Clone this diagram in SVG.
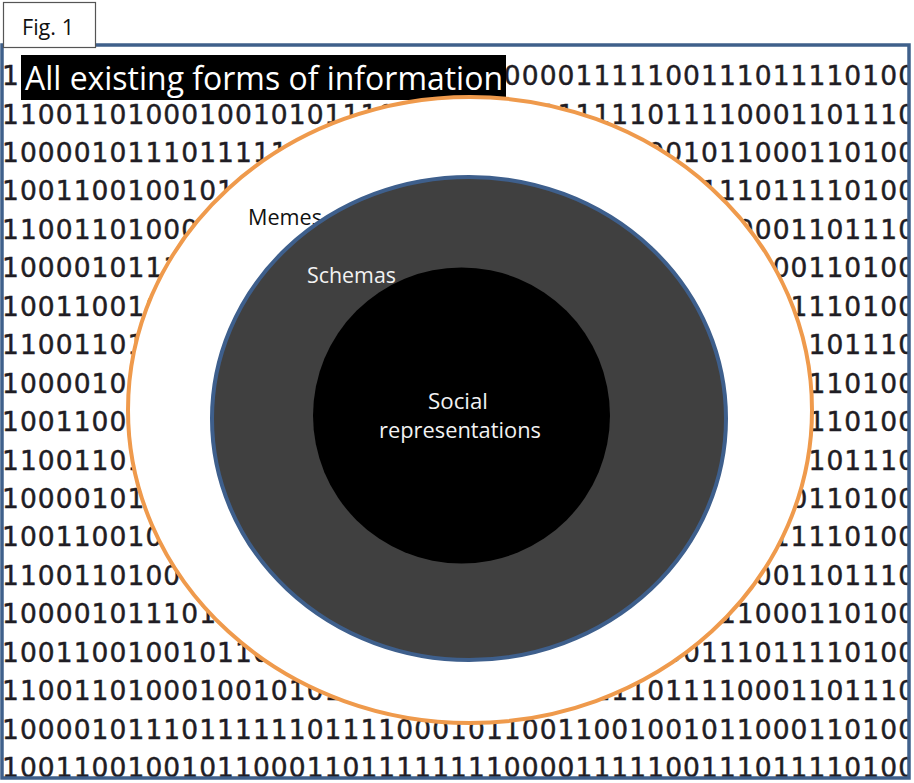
<svg xmlns="http://www.w3.org/2000/svg" width="914" height="783" viewBox="0 0 914 783">
<defs>
<style>
.bin{font-family:"DejaVu Sans",sans-serif;font-size:26.5px;fill:#1f1d24;stroke:#1f1d24;stroke-width:0.45}
.lbl{font-family:"Open Sans","Liberation Sans",Arial,sans-serif;font-size:21px}
</style>
<clipPath id="frameClip"><rect x="3" y="46" width="905" height="731"/></clipPath>
</defs>
<rect x="0" y="0" width="914" height="783" fill="#ffffff"/>
<g id="background-binary" clip-path="url(#frameClip)">
<text class="bin" x="2" y="85" textLength="913" lengthAdjust="spacing">100110010010110001101111111100001111100111011110100</text>
<text class="bin" x="2" y="123.5" textLength="913" lengthAdjust="spacing">110011010001001010111011001100111111011110001101110</text>
<text class="bin" x="2" y="162" textLength="913" lengthAdjust="spacing">100001011101111110111100010110011001001011000110100</text>
<text class="bin" x="2" y="200.4" textLength="913" lengthAdjust="spacing">100110010010110001101111111100001111100111011110100</text>
<text class="bin" x="2" y="238.8" textLength="913" lengthAdjust="spacing">110011010001001010111011001100111111011110001101110</text>
<text class="bin" x="2" y="277.3" textLength="913" lengthAdjust="spacing">100001011101111110111100010110011001001011000110100</text>
<text class="bin" x="2" y="315.7" textLength="913" lengthAdjust="spacing">100110010010110001101111111100001111100111011110100</text>
<text class="bin" x="2" y="354.2" textLength="913" lengthAdjust="spacing">110011010001001010111011001100111111011110001101110</text>
<text class="bin" x="2" y="392.6" textLength="913" lengthAdjust="spacing">100001011101111110111100010110011001001011000110100</text>
<text class="bin" x="2" y="431.1" textLength="913" lengthAdjust="spacing">100110010010110001101111111100001111100111011110100</text>
<text class="bin" x="2" y="469.5" textLength="913" lengthAdjust="spacing">110011010001001010111011001100111111011110001101110</text>
<text class="bin" x="2" y="508" textLength="913" lengthAdjust="spacing">100001011101111110111100010110011001001011000110100</text>
<text class="bin" x="2" y="546.4" textLength="913" lengthAdjust="spacing">100110010010110001101111111100001111100111011110100</text>
<text class="bin" x="2" y="584.9" textLength="913" lengthAdjust="spacing">110011010001001010111011001100111111011110001101110</text>
<text class="bin" x="2" y="623.3" textLength="913" lengthAdjust="spacing">100001011101111110111100010110011001001011000110100</text>
<text class="bin" x="2" y="661.8" textLength="913" lengthAdjust="spacing">100110010010110001101111111100001111100111011110100</text>
<text class="bin" x="2" y="700.2" textLength="913" lengthAdjust="spacing">110011010001001010111011001100111111011110001101110</text>
<text class="bin" x="2" y="738.7" textLength="913" lengthAdjust="spacing">100001011101111110111100010110011001001011000110100</text>
<text class="bin" x="2" y="777.1" textLength="913" lengthAdjust="spacing">100110010010110001101111111100001111100111011110100</text>
</g>
<g id="frame">
<rect x="2" y="45" width="907" height="733" fill="none" stroke="#3f608b" stroke-width="3.5"/>
</g>
<g id="fig-label">
<rect x="3.5" y="2.5" width="92" height="45" fill="#ffffff" stroke="#555555" stroke-width="1.2"/>
<text class="lbl" x="22" y="35" font-size="20" fill="#111111" textLength="52" lengthAdjust="spacingAndGlyphs">Fig. 1</text>
</g>
<g id="title">
<rect x="21" y="55" width="485" height="45" fill="#000000"/>
<text x="25" y="90" font-family="Open Sans, Liberation Sans, Arial, sans-serif" font-size="33" fill="#ffffff" textLength="478" lengthAdjust="spacingAndGlyphs">All existing forms of information</text>
</g>
<g id="memes">
<ellipse cx="470" cy="410" rx="342" ry="313" fill="#ffffff" stroke="#ef9a4c" stroke-width="4"/>
<text class="lbl" x="248" y="225" fill="#111111" textLength="74" lengthAdjust="spacingAndGlyphs">Memes</text>
</g>
<g id="schemas">
<ellipse cx="469" cy="418.5" rx="257" ry="241.5" fill="#404040" stroke="#3e5f8c" stroke-width="4"/>
<text class="lbl" x="307" y="283" fill="#f2f2f2" textLength="89" lengthAdjust="spacingAndGlyphs">Schemas</text>
</g>
<g id="social-representations">
<ellipse cx="461.5" cy="415.5" rx="148.5" ry="148" fill="#000000"/>
<text class="lbl" x="428" y="409" font-size="22" fill="#f2f2f2" textLength="60" lengthAdjust="spacingAndGlyphs">Social</text>
<text class="lbl" x="379" y="438" font-size="22" fill="#f2f2f2" textLength="162" lengthAdjust="spacingAndGlyphs">representations</text>
</g>
<g id="connectors"/>
</svg>
